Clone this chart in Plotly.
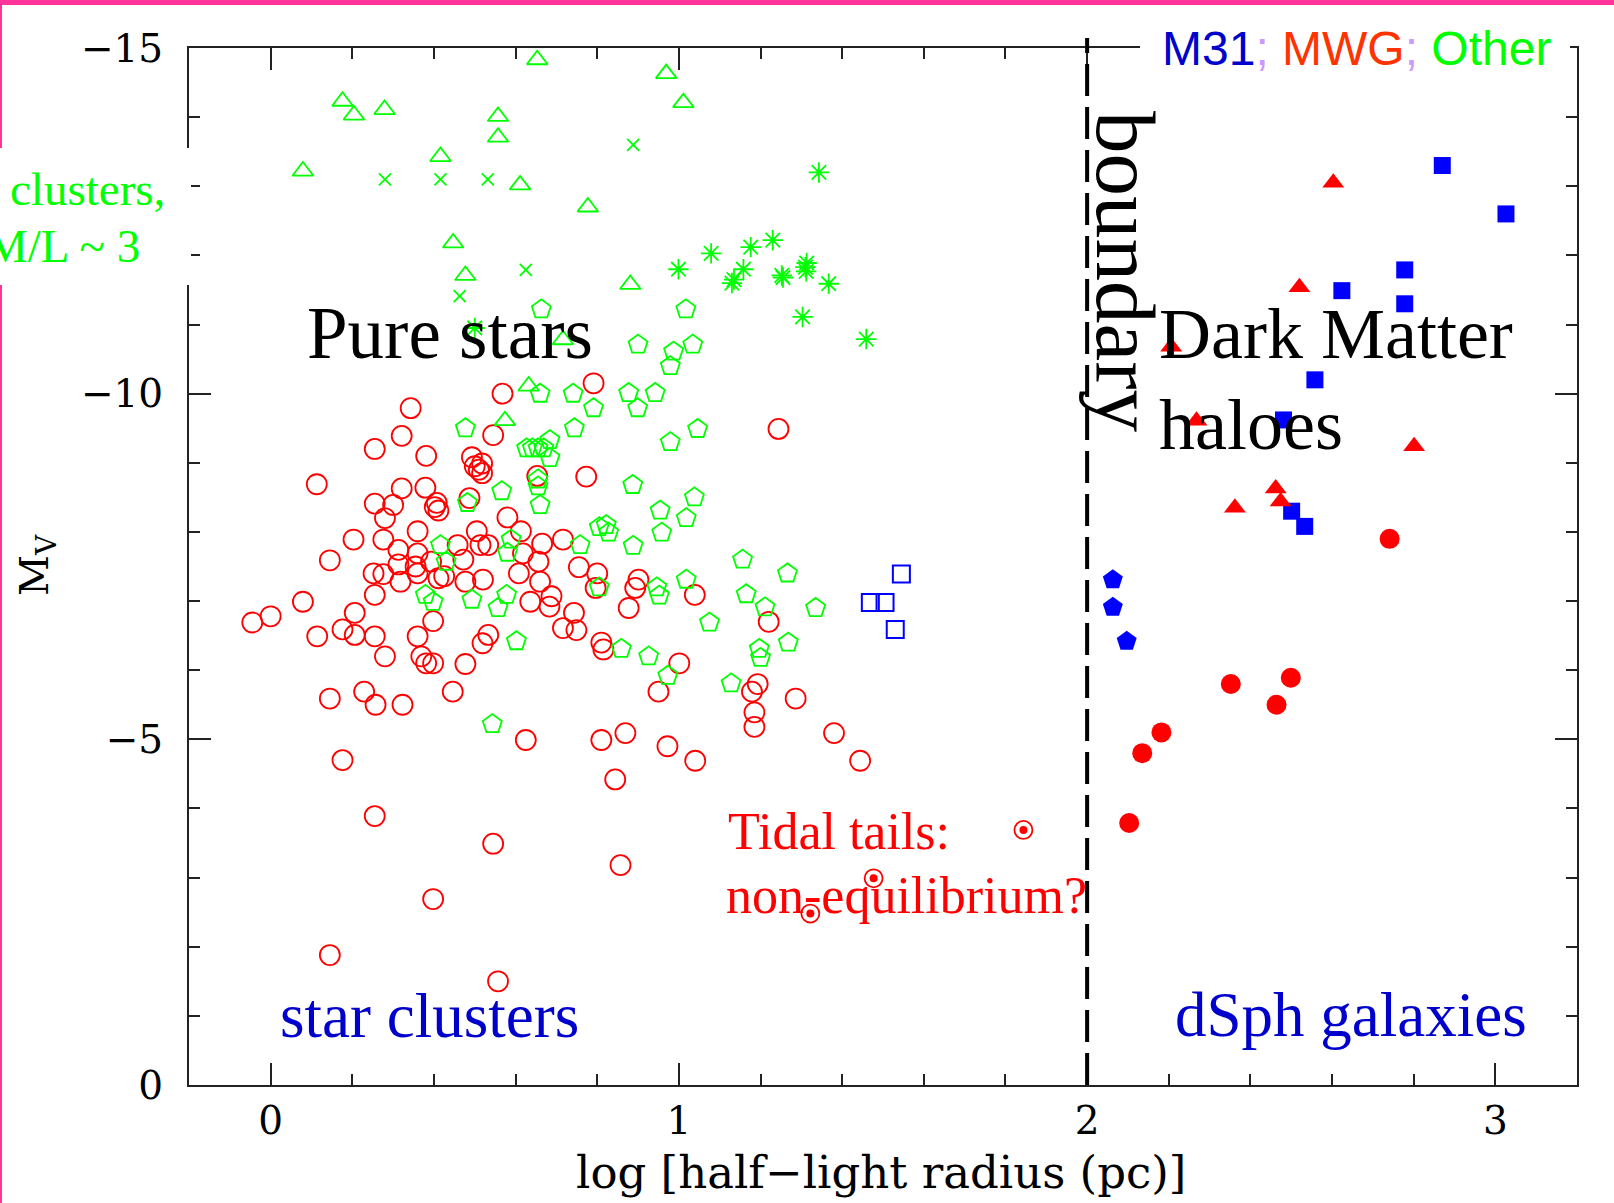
import plotly.graph_objects as go

# ---------------- data (log r_h [pc], M_V) ----------------
mwg_gc_x = [0.568, 0.343, 0.321, 0.255, 0.381, 0.545, 0.493, 0.518, 0.518, 0.50, 0.51, 0.113, 0.653, 0.773,
            0.321, 0.379, 0.407, 0.411, 0.402, 0.487, 0.255, 0.30, 0.28, 0.58, 0.203, 0.276, 0.36, 0.505, 0.613,
            0.716, 0.313, 0.36, 0.458, 0.514, 0.533, 0.665, 0.618, 0.145, 0.313, 0.355, 0.393, 0.472, 0.656,
            0.755, 0.252, 0.276, 0.318, 0.36, 0.411, 0.425, 0.477, 0.52, 0.608, 0.66, 0.80, 0.255, 0.688, 0.683,
            0.636, 0.079, 0.0, -0.045, 0.206, 0.176, 0.206, 0.114, 0.255, 0.36, 0.398, 0.743, 0.716, 0.749,
            0.81, 0.533, 0.519, 0.28, 0.369, 0.381, 0.398, 0.477, 0.815, 0.229, 0.145, 0.257, 0.323, 0.446,
            0.625, 0.176, 0.81, 0.255, 0.545, 0.398, 0.145, 0.557, 0.791, 1.244, 0.796, 0.901, 0.893, 1.039,
            0.877, 1.001, 0.95, 1.22, 1.193, 1.179, 1.185, 1.185, 1.286, 0.869, 0.972, 1.04, 1.38, 1.444,
            0.844, 0.857]
mwg_gc_y = [-10.0, -9.79, -9.39, -9.20, -9.10, -9.40, -9.08, -8.99, -8.85, -8.95, -8.90, -8.69, -8.81, -8.80,
            -8.63, -8.64, -8.42, -8.31, -8.36, -8.49, -8.41, -8.39, -8.20, -8.21, -7.89, -7.89, -8.01, -8.01, -8.01,
            -7.89, -7.74, -7.69, -7.81, -7.81, -7.81, -7.83, -7.69, -7.59, -7.53, -7.50, -7.57, -7.60, -7.57,
            -7.49, -7.40, -7.39, -7.28, -7.40, -7.33, -7.36, -7.28, -7.31, -7.40, -7.28, -7.40, -7.09, -7.07, -6.92,
            -6.99, -6.99, -6.78, -6.69, -6.83, -6.59, -6.51, -6.49, -6.49, -6.49, -6.71, -6.83, -6.61, -6.58,
            -6.40, -6.51, -6.39, -6.20, -6.20, -6.10, -6.10, -6.09, -6.30, -5.69, -5.59, -5.50, -5.50, -5.69,
            -4.99, -4.70, -4.99, -3.89, -3.49, -2.69, -1.88, -1.50, -10.15, -9.49, -7.19, -7.31, -7.19, -7.09,
            -6.90, -6.10, -5.69, -6.70, -5.80, -5.69, -5.39, -5.18, -5.59, -5.09, -4.90, -4.69, -5.09, -4.69,
            -4.42, -3.18]

tidal_x = [1.844, 1.477, 1.322]
tidal_y = [-3.69, -2.99, -2.48]

other_pent_x = [0.66, 0.741, 0.791, 0.477, 0.744, 0.627, 0.641, 0.655, 0.669, 0.684, 0.684, 0.655, 0.655, 0.66,
                0.566, 0.482, 0.805, 0.758, 0.589, 0.58, 0.416, 0.43, 0.379, 0.398, 0.493, 0.557, 0.578, 0.805,
                0.602, 0.543, 0.663, 1.017, 0.9, 1.034, 0.987, 0.979, 0.877, 0.942, 0.899, 1.046, 0.979, 0.887,
                1.038, 0.954, 1.018, 0.822, 0.828, 0.958, 0.888, 1.156, 1.266, 0.946, 0.952, 1.018, 1.165, 1.211,
                1.335, 1.075, 0.859, 0.926, 1.197, 1.2, 1.268, 0.973, 1.128]
other_pent_y = [-10.0, -10.0, -9.79, -9.5, -9.5, -9.21, -9.21, -9.21, -9.21, -9.33, -9.07, -8.76, -8.66, -8.39,
                -8.59, -8.42, -8.07, -7.81, -7.89, -7.70, -7.81, -7.57, -7.09, -6.99, -7.02, -6.90, -7.09, -7.2,
                -6.42, -5.22, -11.22, -11.22, -10.71, -10.71, -10.61, -10.40, -10.01, -10.01, -9.79, -9.49, -9.30,
                -8.68, -8.50, -8.31, -8.20, -8.10, -7.99, -7.99, -7.80, -7.60, -7.40, -7.20, -7.08, -7.31, -7.10,
                -6.91, -6.90, -6.69, -6.31, -6.20, -6.31, -6.18, -6.40, -5.92, -5.81]

other_tri_x = [0.079, 0.176, 0.204, 0.279, 0.416, 0.557, 0.557, 0.611, 0.447, 0.477, 0.653, 0.777, 0.716,
               0.632, 0.574, 0.969, 1.011, 0.881]
other_tri_y = [-13.22, -14.23, -14.03, -14.11, -13.43, -14.01, -13.71, -13.02, -12.18, -11.71, -14.83, -12.70,
               -10.78, -10.11, -9.61, -14.63, -14.21, -11.58]

other_x_x = [0.28, 0.416, 0.532, 0.625, 0.463, 0.888]
other_x_y = [-13.10, -13.10, -13.10, -11.79, -11.41, -13.6]

other_ast_x = [1.343, 0.999, 1.079, 1.176, 1.23, 1.158, 1.13, 1.135, 1.252, 1.255, 1.313, 1.312, 1.31, 1.367,
               1.303, 1.459, 0.5]
other_ast_y = [-13.20, -11.80, -12.03, -12.12, -12.22, -11.80, -11.60, -11.65, -11.71, -11.68, -11.89, -11.77,
               -11.83, -11.59, -11.11, -10.79, -10.95]

m31_ec_x = [1.545, 1.469, 1.505, 1.53]
m31_ec_y = [-7.39, -6.98, -6.98, -6.59]

m31_dsph_x = [2.87, 3.026, 2.778, 2.778, 2.624, 2.558, 2.481, 2.501, 2.533]
m31_dsph_y = [-13.30, -12.60, -11.79, -11.30, -11.49, -10.20, -9.62, -8.30, -8.08]

m31_pent_x = [2.063, 2.063, 2.097]
m31_pent_y = [-7.31, -6.91, -6.42]

mwg_tri_x = [2.603, 2.52, 2.206, 2.268, 2.801, 2.462, 2.474, 2.362]
mwg_tri_y = [-13.05, -11.54, -10.68, -9.61, -9.24, -8.63, -8.44, -8.35]

mwg_dsph_x = [2.741, 2.352, 2.499, 2.464, 2.182, 2.135, 2.103]
mwg_dsph_y = [-7.90, -5.80, -5.89, -5.50, -5.10, -4.80, -3.79]

x_ticks = [0, 1, 2, 3]
y_ticks = [-15, -10, -5, 0]
boundary_x = 2

# ---------------- figure ----------------
RED = "#FF0000"
GREEN = "#00FF00"
BLUE = "#0000FF"

fig = go.Figure()


def add(x, y, symbol, color, size, lw=1.8):
    fig.add_trace(go.Scatter(x=x, y=y, mode="markers", showlegend=False, hoverinfo="skip",
                             marker=dict(symbol=symbol, size=size, color=color,
                                         line=dict(color=color, width=lw))))


add(mwg_gc_x, mwg_gc_y, "circle-open", RED, 20)
add(other_pent_x, other_pent_y, "pentagon-open", GREEN, 20)
add(other_tri_x, other_tri_y, "triangle-up-open", GREEN, 18)
add(other_x_x, other_x_y, "x-thin-open", GREEN, 12, 1.8)
add(other_ast_x, other_ast_y, "asterisk-open", GREEN, 17, 1.8)
add(tidal_x, tidal_y, "circle-open", RED, 18)
add(tidal_x, tidal_y, "circle", RED, 8, 0)
add(m31_ec_x, m31_ec_y, "square-open", BLUE, 17, 2)
add(m31_dsph_x, m31_dsph_y, "square", BLUE, 17, 0)
add(m31_pent_x, m31_pent_y, "pentagon", BLUE, 21, 0)
add(mwg_tri_x, mwg_tri_y, "triangle-up", RED, 19, 0)
add(mwg_dsph_x, mwg_dsph_y, "circle", RED, 20, 0)

W, H = 1614, 1203
PL, PT, PR, PB = 189, 48, 37, 118
PW, PH = W - PL - PR, H - PT - PB


def px(X):
    return (X - PL) / PW


def py(Y):
    return (PT + PH - Y) / PH


AX = "#222222"
tickfont = dict(family="DejaVu Serif", size=39, color="black")
common = dict(showline=True, linecolor=AX, linewidth=2, mirror="ticks", ticks="inside", ticklen=22,
              tickwidth=2, tickcolor=AX, showgrid=False, zeroline=False, tickfont=tickfont)

fig.update_xaxes(range=[-0.2, 3.2], tickvals=x_ticks, ticklabelstandoff=0,
                 minor=dict(ticks="inside", ticklen=11, tickwidth=2, tickcolor=AX, dtick=0.2, tick0=0,
                            showgrid=False), **common)
fig.update_yaxes(range=[0, -15], tickvals=y_ticks, ticklabelstandoff=16,
                 minor=dict(ticks="inside", ticklen=11, tickwidth=2, tickcolor=AX, dtick=1, tick0=0,
                            showgrid=False), **common)

SERIF = "Liberation Serif, Times New Roman, serif"
SANS = "Liberation Sans, Arial, sans-serif"

shapes = [
    dict(type="line", xref="x", yref="paper", x0=boundary_x, x1=boundary_x, y0=0, y1=py(38),
         line=dict(color="black", width=4, dash="32px,11px"), layer="above"),
    dict(type="rect", xref="paper", yref="paper", x0=px(0), x1=px(W), y0=py(5), y1=py(0),
         fillcolor="#FF3399", line=dict(width=0), layer="above"),
    dict(type="rect", xref="paper", yref="paper", x0=px(0), x1=px(2), y0=py(H), y1=py(0),
         fillcolor="#FF3399", line=dict(width=0), layer="above"),
    dict(type="rect", xref="paper", yref="paper", x0=px(-5), x1=px(191), y0=py(285), y1=py(148),
         fillcolor="white", line=dict(width=0), layer="above"),
    dict(type="rect", xref="paper", yref="paper", x0=px(1140), x1=px(1570), y0=py(76), y1=py(20),
         fillcolor="white", line=dict(width=0), layer="above"),
]


def ann(text, X, Y, size, color="black", family=SERIF, xanchor="left", angle=0):
    return dict(text=text, x=px(X), y=py(Y), xref="paper", yref="paper", showarrow=False,
                xanchor=xanchor, yanchor="middle", textangle=angle,
                font=dict(family=family, size=size, color=color))


legend_txt = ('<span style="color:#0000CC">M31</span><span style="color:#CC99FF">; </span>'
              '<span style="color:#FF3300">MWG</span><span style="color:#CC99FF">; </span>'
              '<span style="color:#00FF00">Other</span>')

annotations = [
    ann("Pure stars", 305, 333, 73),
    ann("Dark Matter", 1157, 334, 72),
    ann("haloes", 1157, 425, 72),
    ann("boundary", 1126, 272, 85, xanchor="center", angle=90),
    ann("star clusters", 278, 1016, 63, color="#0000CC"),
    ann("dSph galaxies", 1173, 1015, 63, color="#0000CC"),
    ann("Tidal tails:", 726, 831, 52, color=RED),
    ann("non-equilibrium?", 724, 895, 52, color=RED),
    ann("clusters,", 8, 189, 47, color=GREEN),
    ann("M/L ~ 3", 142, 246, 47, color=GREEN, xanchor="right"),
    ann(legend_txt, 1160, 48, 48, family=SANS),
    ann("M<sub>V</sub>", 37, 565, 40, family="DejaVu Serif", xanchor="center", angle=-90),
    ann("log [half\u2212light radius (pc)]", 881, 1172, 45, family="DejaVu Serif", xanchor="center"),
]

fig.update_layout(width=W, height=H, autosize=False,
                  margin=dict(l=PL, r=PR, t=PT, b=PB, pad=0),
                  paper_bgcolor="white", plot_bgcolor="white",
                  shapes=shapes, annotations=annotations)

fig.write_html("out.html")
